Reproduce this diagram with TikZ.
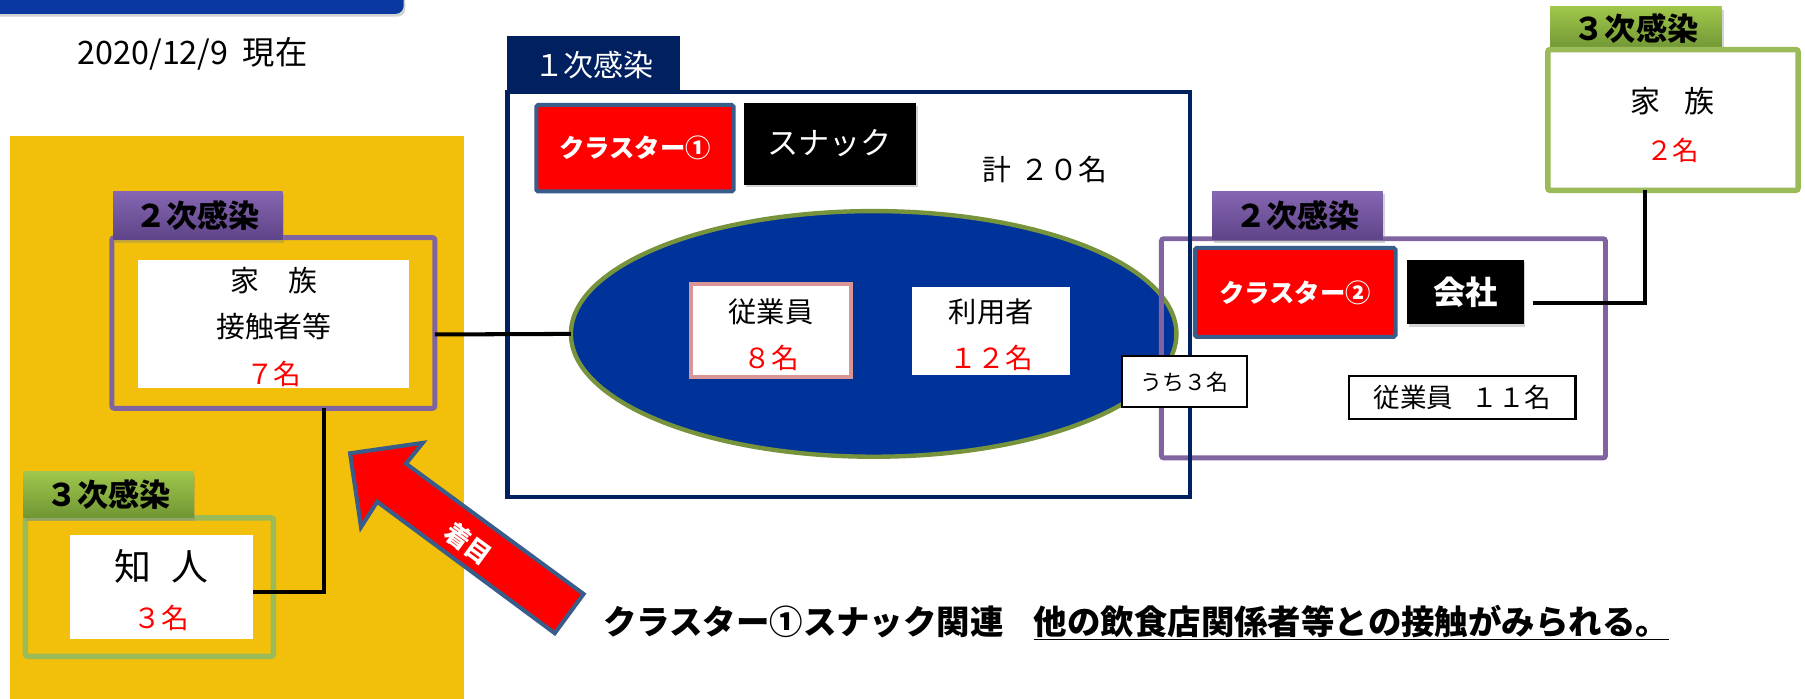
\documentclass[tikz,border=0pt]{standalone}
\usepackage{fontspec}
\setmainfont{Noto Sans CJK JP}
\usetikzlibrary{shapes.geometric,shadows,calc}
\definecolor{barblue}{RGB}{10,55,160}
\definecolor{gold}{RGB}{242,192,10}
\definecolor{purp}{RGB}{128,100,162}
\definecolor{purptop}{RGB}{134,102,178}
\definecolor{purpbot}{RGB}{94,68,136}
\definecolor{grn}{RGB}{155,187,89}
\definecolor{grntop}{RGB}{160,198,76}
\definecolor{grnbot}{RGB}{112,150,52}
\definecolor{navy}{RGB}{0,32,96}
\definecolor{ellblue}{RGB}{0,51,153}
\definecolor{olive}{RGB}{119,147,60}
\definecolor{pinkb}{RGB}{217,150,148}
\definecolor{steel}{RGB}{56,93,138}
\newcommand\fsz[1]{\fontsize{#1}{#1}\selectfont}
\tikzset{
  bx/.style={rectangle, inner sep=0pt, outer sep=0pt},
  shd/.style={drop shadow={opacity=0.35,shadow xshift=1.5pt,shadow yshift=-2.5pt}},
  ptab/.style={bx, top color=purptop, bottom color=purpbot, shd, font=\fsz{27}\bfseries},
  gtab/.style={bx, top color=grntop, bottom color=grnbot, shd, font=\fsz{27}\bfseries},
  pframe/.style={bx, draw=purp, line width=4.3pt, rounded corners=2pt},
  gframe/.style={bx, draw=grn, line width=4.8pt, rounded corners=2pt},
  whitebox/.style={bx, fill=white},
  clus/.style={bx, fill=red, draw=steel, line width=3.5pt, rounded corners=1.5pt, text=white, font=\fsz{22}\bfseries},
  blk/.style={bx, fill=black, shd, text=white},
  txt/.style={inner sep=0pt, font=\fsz{25}},
  num/.style={inner sep=0pt, text=red, font=\fsz{24}},
  conn/.style={draw=black, line width=3.5pt},
  thinbox/.style={bx, fill=white, draw=black, line width=1.8pt},
}
\begin{document}
\begin{tikzpicture}[x=1pt,y=-1pt]
\useasboundingbox (0,0) rectangle (1565,606);
% top bar and date
\node[bx, fill=barblue, rounded corners=7pt, minimum width=370pt, minimum height=34pt, shd] (bar) at (165,-5) {};
\node[inner sep=0pt, font=\fsz{28}] (date) at (167,47) {2020/12/9\hspace{0.45em}現在};
% yellow panel
\node[bx, fill=gold, minimum width=394pt, minimum height=500pt] (panel) at (205.5,368) {};
% first infection box
\node[bx, fill=white, minimum width=592pt, minimum height=351pt] (nbox) at (736,255.5) {};
\node[bx, fill=navy, minimum width=150pt, minimum height=50pt, text=white, font=\fsz{26}] (tab1) at (515,56) {１次感染};
\node[ellipse, inner sep=0pt, outer sep=0pt, fill=ellblue, draw=olive, line width=3.8pt, minimum width=525pt, minimum height=213pt] (ell) at (757.5,289.5) {};
\node[whitebox, draw=pinkb, line width=3.5pt, minimum width=139pt, minimum height=81pt] (emp) at (668.5,286.5) {};
\node[txt, font=\fsz{24.5}] (empt) at (668.5,270) {従業員};
\node[num] (empn) at (668.5,310) {８名};
\node[whitebox, minimum width=137pt, minimum height=76pt] (usr) at (859.5,287) {};
\node[txt, font=\fsz{24.5}] (usrt) at (859.5,270) {利用者};
\node[num] (usrn) at (859.5,310) {１２名};
\node[clus, minimum width=171pt, minimum height=75pt] (cl1) at (550.5,128.5) {クラスター①};
\node[blk, minimum width=149pt, minimum height=71pt, font=\fsz{27}] (snack) at (719.5,124.5) {スナック};
\node[txt] (total) at (906,147) {計\hspace{0.3em}２０名};
% right second infection
\node[pframe, minimum width=385pt, minimum height=190pt] (rbox) at (1199.5,302) {};
\draw[navy, line width=3.8pt] (nbox.south west) rectangle (nbox.north east);
\node[ptab, minimum width=148pt, minimum height=42pt] (rtab) at (1125,187) {２次感染};
\node[clus, minimum width=174pt, minimum height=77pt] (cl2) at (1123,253.5) {クラスター②};
\node[blk, minimum width=101pt, minimum height=56pt, font=\fsz{28}\bfseries] (kaisha) at (1270.5,253) {会社};
\node[thinbox, minimum width=196pt, minimum height=37pt, font=\fsz{23}] (emp11) at (1268,344.5) {従業員\hspace{0.7em}１１名};
\node[thinbox, minimum width=108pt, minimum height=44pt, font=\fsz{19}] (uchi) at (1027,331) {うち３名};
% right third infection
\node[gtab, minimum width=149pt, minimum height=37pt] (rgtab) at (1418.5,24.5) {３次感染};
\node[gframe, fill=white, minimum width=217pt, minimum height=122pt] (rfam) at (1450.5,104) {};
\node[txt, font=\fsz{26}] (rfamt) at (1450.5,88) {家\hspace{0.8em}族};
\node[num, font=\fsz{23}] (rfamn) at (1450.5,130) {２名};
\draw[conn] ([xshift=8pt,yshift=-10pt]kaisha.east) -| ([xshift=-24.5pt]rfam.south);
% left second infection
\node[pframe, minimum width=280pt, minimum height=148pt] (lbox) at (237,280) {};
\node[ptab, minimum width=147pt, minimum height=42pt] (ltab) at (171.5,187) {２次感染};
\node[whitebox, minimum width=235pt, minimum height=111pt] (lwhite) at (237.5,280.5) {};
\node[txt] (l1) at (237.5,243) {家　族};
\node[txt] (l2) at (237.5,283) {接触者等};
\node[num] (l3) at (237.5,324) {７名};
\draw[conn] ([yshift=-10pt]lbox.east) -- (ell.west);
% left third infection
\node[gframe, minimum width=215pt, minimum height=120pt] (lgbox) at (129.5,509) {};
\node[gtab, minimum width=148pt, minimum height=40pt] (lgtab) at (94,429) {３次感染};
\node[whitebox, minimum width=158pt, minimum height=90pt] (chi) at (140,509) {};
\node[txt, font=\fsz{32}] (chit) at (140,491) {知\hspace{0.55em}人};
\node[num] (chin) at (140,536) {３名};
\draw[conn] ([xshift=44pt]lbox.south) |- ([yshift=-4pt]chi.east);
% arrow
\draw[fill=red, draw=steel, line width=3.5pt, line join=miter]
  (303.5,393) -- (366.5,384) -- (352,402) -- (506,515) -- (481,549) -- (327,435) -- (313,457) -- cycle;
\node[inner sep=0pt, text=white, font=\fsz{22}\bfseries, rotate=-36.2] (focus) at (406,471) {着目};
% bottom text
\node[inner sep=0pt, font=\fsz{29}\bfseries] (bottom) at (985,540) {クラスター①スナック関連\hspace{0.9em}\underline{他の飲食店関係者等との接触がみられる。}};
\end{tikzpicture}
\end{document}
